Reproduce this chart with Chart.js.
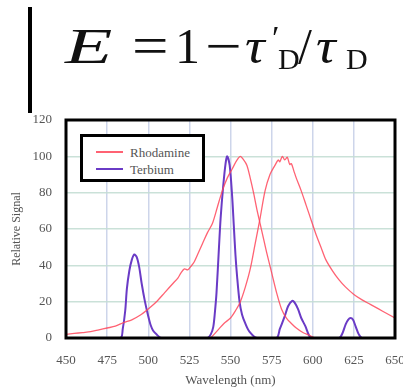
<!DOCTYPE html>
<html lang="en">
<head>
    <meta charset="UTF-8">
    <title>Rhodamine / Terbium spectra</title>
    <script src="https://cdn.jsdelivr.net/npm/chart.js"></script>
    <style>
        body { margin: 0; background: #fff; }
        #wrap { position: relative; width: 403px; height: 388px; overflow: hidden; }
        #spectra { position: absolute; left: 0; top: 0; }
        .bar { position: absolute; left: 28px; top: 7px; width: 4px; height: 106px; background: #000; }
        .eq span { position: absolute; font-family: 'Liberation Serif', serif; color: #111; line-height: 1; white-space: nowrap; }
        #legendBox {
            position: absolute; left: 80px; top: 134px; width: 119px; height: 42px;
            border: 3px solid #000; background: #fff;
            font-family: 'Liberation Serif', serif; font-size: 13px; color: #555;
        }
        .item { position: absolute; left: 0; height: 14px; }
        .item i { position: absolute; left: 13px; width: 27px; height: 2px; top: 6px; }
        .item b { position: absolute; left: 47px; top: 0; font-weight: normal; }
    </style>
</head>
<body>
<div id="wrap">
    <canvas id="spectra" width="403" height="388"></canvas>
    <div class="bar"></div>
    <div class="eq">
        <span style="left:65px; top:21px; font-size:50px; font-style:italic; transform:scaleX(1.55); transform-origin:left;">E</span>
        <span style="left:132px; top:19px; font-size:54px; transform:scaleX(1.2); transform-origin:left;">=</span>
        <span style="left:175px; top:21px; font-size:50px;">1</span>
        <span style="left:205px; top:19px; font-size:54px; transform:scaleX(1.2); transform-origin:left;">−</span>
        <span style="left:245px; top:21px; font-size:50px; font-style:italic; transform:scaleX(1.1); transform-origin:left;">τ</span>
        <span style="left:272px; top:21px; font-size:34px;">′</span>
        <span style="left:278px; top:44px; font-size:30px;">D</span>
        <span style="left:298px; top:21px; font-size:50px;">/</span>
        <span style="left:316px; top:21px; font-size:50px; font-style:italic; transform:scaleX(1.1); transform-origin:left;">τ</span>
        <span style="left:346px; top:44px; font-size:30px;">D</span>
    </div>
    <div id="legendBox"></div>
</div>

<script>
    // wavelengths (nm) and relative signal
    const rhodAbsWl  = [450, 455, 460, 465, 470, 475, 480, 485, 490, 495, 500, 505, 510, 515, 518, 520, 522, 524, 526, 528, 530, 533, 536, 539, 542, 545, 548, 551, 554, 556, 558, 560, 562, 564, 566, 568, 570, 572, 575, 578, 581, 584, 587, 590, 594, 598, 601];
    const rhodAbsVal = [2, 2.5, 3, 3.5, 4.5, 5.5, 6.5, 8.5, 10, 12.5, 16, 20, 25, 30, 33, 36, 38, 37.5, 39.5, 42, 46, 52, 58, 63, 72, 81, 88, 93, 98, 100, 98, 95, 88, 80, 71, 63, 55, 47, 36, 25, 16, 11, 8, 5.5, 3, 1.5, 0];

    const rhodEmWl  = [538, 540, 543, 546, 550, 553, 556, 559, 562, 565, 568, 571, 574, 577, 579, 580, 581.5, 583, 584.5, 586, 587, 588.5, 590, 593, 596, 599, 602, 605, 608, 612, 616, 620, 625, 630, 635, 640, 645, 650];
    const rhodEmVal = [0, 2, 5, 8, 11, 15, 20, 28, 38, 52, 66, 81, 90, 95, 98, 97, 100, 98, 99.5, 95.5, 96, 92, 88, 81, 73, 65, 57, 50, 43, 37, 32, 28, 24, 21, 18.5, 16, 13.5, 11];

    const terbWl  = [450, 483, 484.5, 486, 487, 488.5, 490, 491.5, 493, 494.5, 496, 498, 500, 501.5, 503, 505, 508,
                     536, 538, 539.5, 540.5, 541.5, 543, 544, 545.5, 547, 548, 549.5, 551, 552, 553, 554, 555.5, 557, 559, 561.5, 566,
                     578, 580, 583, 585, 587.5, 589, 591, 593, 595.5, 598, 600,
                     616, 618, 620, 621.5, 623, 624.5, 626, 628, 630, 650];
    const terbVal = [0, 0, 5, 15, 27, 37, 43, 46, 44.5, 39, 30, 20, 12, 7, 4, 2, 0,
                     0, 2, 6, 14, 25, 50, 66, 83, 96, 100, 95, 78, 62, 46, 34, 20, 13, 8, 3.5, 0,
                     0, 5, 12, 17.5, 20.5, 19.5, 16, 11, 6.5, 1, 0,
                     0, 2.5, 7.5, 10, 11, 10, 6.5, 2, 0, 0];

    const xTicks = [450, 475, 500, 525, 550, 575, 600, 625, 650];
    const yTicks = [0, 20, 40, 60, 80, 100, 120];

    const red = 'rgba(255, 70, 90, 0.85)';
    const purple = '#6a3bc6';

    const pts = (xs, ys) => xs.map((x, i) => ({ x: x, y: ys[i] }));
    const serif = { family: "'Liberation Serif', serif", size: 13 };

    // black frame drawn over the curves
    const frame = {
        id: 'frame',
        afterDatasetsDraw(chart) {
            const a = chart.chartArea, c = chart.ctx;
            c.save();
            c.strokeStyle = '#000';
            c.lineWidth = 3;
            c.strokeRect(a.left, a.top, a.right - a.left, a.bottom - a.top);
            c.restore();
        }
    };

    const chart = new Chart(document.getElementById('spectra'), {
        type: 'line',
        data: {
            datasets: [
                { label: 'Rhodamine', data: pts(rhodAbsWl, rhodAbsVal), borderColor: red, borderWidth: 1.3 },
                { label: 'Rhodamine', data: pts(rhodEmWl, rhodEmVal), borderColor: red, borderWidth: 1.3 },
                { label: 'Terbium', data: pts(terbWl, terbVal), borderColor: purple, borderWidth: 2 }
            ]
        },
        options: {
            responsive: false,
            animation: false,
            elements: { point: { radius: 0 }, line: { tension: 0.3 } },
            layout: { padding: { left: 0, right: 8, top: 120, bottom: 0 } },
            plugins: { legend: { display: false }, tooltip: { enabled: false } },
            scales: {
                x: {
                    type: 'linear', min: 450, max: 650,
                    afterBuildTicks: s => { s.ticks = xTicks.map(v => ({ value: v })); },
                    afterFit: s => { s.height = 50; s.paddingLeft = 0; s.paddingRight = 0; },
                    grid: { color: 'rgba(200, 208, 232, 0.9)', lineWidth: 1.5, drawTicks: false },
                    border: { display: false },
                    ticks: { font: serif, color: '#555', padding: 15, maxRotation: 0, autoSkip: false },
                    title: { display: true, text: 'Wavelength (nm)', font: serif, color: '#555', padding: { top: 0, bottom: 0 } }
                },
                y: {
                    min: 0, max: 120,
                    afterBuildTicks: s => { s.ticks = yTicks.map(v => ({ value: v })); },
                    afterFit: s => { s.width = 66; s.paddingTop = 0; s.paddingBottom = 0; },
                    grid: { color: 'rgba(196, 222, 212, 0.9)', lineWidth: 1.5, drawTicks: false },
                    border: { display: false },
                    ticks: { font: serif, color: '#555', padding: 14 },
                    title: { display: true, text: 'Relative Signal', font: { family: "'Liberation Serif', serif", size: 12 }, color: '#555', padding: { top: 10, bottom: 0 } }
                }
            }
        },
        plugins: [frame]
    });

    // legend box inside the plot, one entry per series name
    const box = document.getElementById('legendBox');
    const seen = [];
    chart.data.datasets.forEach(ds => {
        if (seen.indexOf(ds.label) >= 0) return;
        const row = document.createElement('div');
        row.className = 'item';
        row.style.top = (8 + seen.length * 17) + 'px';
        row.innerHTML = '<i style="background:' + ds.borderColor + '"></i><b>' + ds.label + '</b>';
        box.appendChild(row);
        seen.push(ds.label);
    });
</script>
</body>
</html>
